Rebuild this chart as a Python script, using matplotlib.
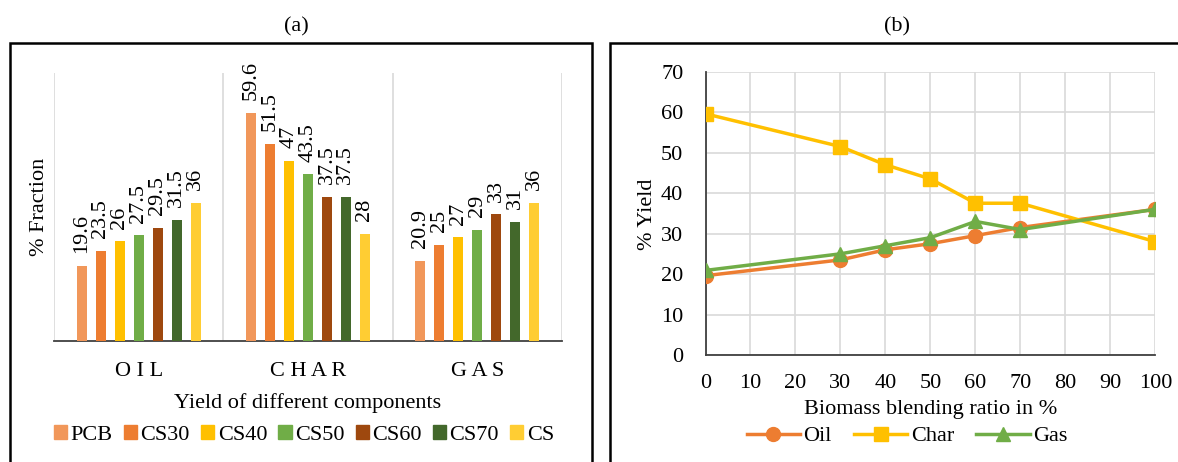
import numpy as np
import matplotlib
matplotlib.use('Agg')
import matplotlib.pyplot as plt
from matplotlib.patches import Patch, Rectangle

plt.rcParams['font.family'] = ['Liberation Serif', 'DejaVu Serif']

# yields (%) for each blend
components = ['O I L', 'C H A R', 'G A S']
blends = ['PCB', 'CS30', 'CS40', 'CS50', 'CS60', 'CS70', 'CS']
pcb = [19.6, 59.6, 20.9]
cs30 = [23.5, 51.5, 25]
cs40 = [26, 47, 27]
cs50 = [27.5, 43.5, 29]
cs60 = [29.5, 37.5, 33]
cs70 = [31.5, 37.5, 31]
cs100 = [36, 28, 36]
bar_values = [pcb, cs30, cs40, cs50, cs60, cs70, cs100]
bar_colors = ['#F1975A', '#ED7D31', '#FFC000', '#70AD47', '#9E480E', '#43682B', '#FFCD33']

ratio = [0, 30, 40, 50, 60, 70, 100]
oil = [19.6, 23.5, 26, 27.5, 29.5, 31.5, 36]
char = [59.6, 51.5, 47, 43.5, 37.5, 37.5, 28]
gas = [20.9, 25, 27, 29, 33, 31, 36]

fs = 16
grid_c = '#D9D9D9'
W, H = 1178, 462
fig = plt.figure(figsize=(W / 100, H / 100), dpi=100)

def fx(px):
    return px / W

def fy(py):
    return 1 - py / H

# outer frames
fig.patches.append(Rectangle((fx(10), fy(470)), fx(582), fy(43) - fy(470), fill=False,
                             lw=1.8, ec='black', transform=fig.transFigure))
fig.patches.append(Rectangle((fx(610), fy(470)), fx(600), fy(43) - fy(470), fill=False,
                             lw=1.8, ec='black', transform=fig.transFigure))
fig.text(fx(296), fy(27), '(a)', ha='center', va='center', fontsize=fs)
fig.text(fx(897), fy(27), '(b)', ha='center', va='center', fontsize=fs)

# (a) grouped bars
ax1 = fig.add_axes([fx(54), fy(340.7), fx(508), fy(72.7) - fy(340.7)])
x = np.arange(len(components))
step, bw = 0.112, 0.059
for i, (vals, c) in enumerate(zip(bar_values, bar_colors)):
    pos = x + (i - 3) * step
    ax1.bar(pos, vals, width=bw, color=c, zorder=3)
    for p, v in zip(pos, vals):
        ax1.text(p, v + 3.3, f'{v:g}', rotation=90, ha='center', va='bottom', fontsize=fs)
ax1.set_xlim(-0.5, 2.5)
ax1.set_ylim(0, 70)
for g in [-0.5, 0.5, 1.5, 2.5]:
    ax1.axvline(g, color=grid_c, lw=1.2, zorder=1)
for s in ['top', 'right', 'left']:
    ax1.spines[s].set_visible(False)
ax1.spines['bottom'].set_color('#404040')
ax1.spines['bottom'].set_linewidth(1.3)
ax1.set_yticks([])
ax1.set_xticks(x)
ax1.set_xticklabels(components, fontsize=fs)
ax1.tick_params(axis='x', length=0, pad=15)
ax1.set_xlabel('Yield of different components', fontsize=fs, labelpad=9)
fig.text(fx(40), fy(207), '% Fraction', rotation=90, ha='center', va='center', fontsize=fs)
handles = [Patch(color=c, label=b) for b, c in zip(blends, bar_colors)]
fig.legend(handles=handles, loc='center', bbox_to_anchor=(fx(304), fy(435)), ncol=7,
           frameon=False, fontsize=fs, handlelength=0.6, handleheight=0.6,
           handletextpad=0.15, columnspacing=0.5, borderpad=0)

# (b) yield vs blending ratio
ax2 = fig.add_axes([fx(705.5), fy(355), fx(449.9), fy(71.7) - fy(355)])
ax2.plot(ratio, oil, '-o', color='#ED7D31', lw=2.5, ms=10, label='Oil', zorder=3)
ax2.plot(ratio, char, '-s', color='#FFC000', lw=2.5, ms=10, label='Char', zorder=3)
ax2.plot(ratio, gas, '-^', color='#70AD47', lw=2.5, ms=10, label='Gas', zorder=4)
ax2.set_xlim(0, 100)
ax2.set_ylim(0, 70)
ax2.set_xticks(range(0, 101, 10))
ax2.set_yticks(range(0, 71, 10))
ax2.grid(True, color=grid_c, lw=1.2, zorder=0)
ax2.set_axisbelow(True)
for s in ['top', 'right']:
    ax2.spines[s].set_visible(False)
for s in ['left', 'bottom']:
    ax2.spines[s].set_color('#404040')
    ax2.spines[s].set_linewidth(1.3)
ax2.tick_params(axis='x', length=0, labelsize=fs, pad=14)
ax2.tick_params(axis='y', length=0, labelsize=fs, pad=16)
ax2.set_xlabel('Biomass blending ratio in %', fontsize=fs, labelpad=5)
fig.text(fx(648), fy(214), '% Yield', rotation=90, ha='center', va='center', fontsize=fs)
ax2.legend(loc='center', bbox_to_anchor=(fx(907), fy(436)), bbox_transform=fig.transFigure,
           ncol=3, frameon=False, fontsize=fs, handlelength=2.4, handletextpad=0.15,
           columnspacing=1.0, borderpad=0)

fig.savefig('out.png', dpi=100)
